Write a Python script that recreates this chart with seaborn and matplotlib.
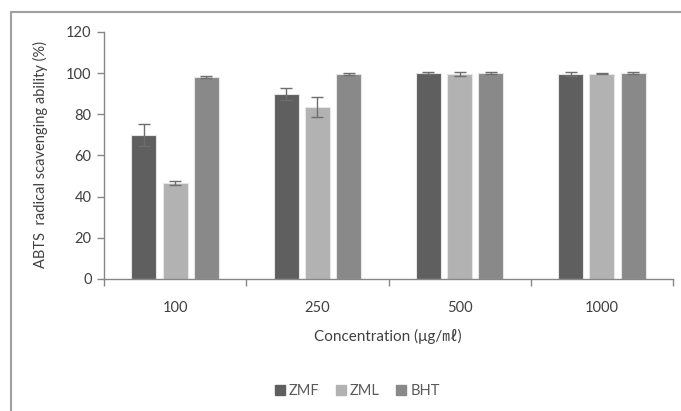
import matplotlib
matplotlib.use("Agg")
import matplotlib.pyplot as plt
import seaborn as sns
import pandas as pd
from matplotlib.lines import Line2D

concentrations = ["100", "250", "500", "1000"]
samples = ["ZMF", "ZML", "BHT"]
zmf_vals = [69.8, 89.8, 100.0, 99.5]
zmf_err = [5.3, 3.0, 0.5, 1.0]
zml_vals = [46.6, 83.5, 99.4, 99.8]
zml_err = [0.8, 4.7, 1.0, 0.4]
bht_vals = [98.2, 99.6, 100.0, 100.0]
bht_err = [0.4, 0.4, 0.4, 0.5]
colors = ["#5f5f5f", "#b2b2b2", "#898989"]

rows = []
for s, vals, errs in [("ZMF", zmf_vals, zmf_err), ("ZML", zml_vals, zml_err), ("BHT", bht_vals, bht_err)]:
    for c, v, e in zip(concentrations, vals, errs):
        rows.append({"Concentration": c, "Sample": s, "Value": v, "Err": e})
df = pd.DataFrame(rows)

sns.set_theme(style="white")
plt.rcParams['font.family'] = ['Lato', 'DejaVu Sans']

W, H = 681, 411
fig = plt.figure(figsize=(W / 100, H / 100), dpi=100)
ax = fig.add_axes([104 / W, 1 - 279 / H, (673 - 104) / W, (279 - 32) / H])

sns.barplot(data=df, x="Concentration", y="Value", hue="Sample", order=concentrations,
            hue_order=samples, palette=colors, width=0.66, gap=0.2, errorbar=None,
            edgecolor="#e6e6e6", linewidth=0.8, ax=ax, legend=False)

# error bars from bar positions
for cont, s in zip(ax.containers, samples):
    sub = df[df["Sample"] == s].set_index("Concentration").loc[concentrations]
    xs = [p.get_x() + p.get_width() / 2 for p in cont.patches]
    ax.errorbar(xs, sub["Value"].values, yerr=sub["Err"].values, fmt="none",
                ecolor="#6e6e6e", elinewidth=1, capsize=4, capthick=1, zorder=5)

ax.set_ylim(0, 120)
ax.set_yticks(range(0, 121, 20))
ax.set_xlim(-0.5, 3.5)
ax.set_xticks([-0.5, 0.5, 1.5, 2.5, 3.5], minor=True)
ax.tick_params(axis="x", which="major", length=0, pad=16, labelsize=10.5, labelcolor="#404040")
ax.tick_params(axis="x", which="minor", length=5, width=1, color="#868686", direction="out", bottom=True)
ax.tick_params(axis="y", which="major", length=5, width=1, color="#868686", direction="out", left=True,
               labelsize=10.5, labelcolor="#404040", pad=4)
for sp in ["top", "right"]:
    ax.spines[sp].set_visible(False)
for sp in ["left", "bottom"]:
    ax.spines[sp].set_color("#868686")
    ax.spines[sp].set_linewidth(1)
ax.set_xlabel("")
ax.set_ylabel("")

fig.text(40 / W, 1 - 155 / H, "ABTS  radical scavenging ability (%)", rotation=90,
         ha="center", va="center", fontsize=10.5, color="#404040")
fig.text(388 / W, 1 - 336 / H, "Concentration (\u03bcg/\u3396)", ha="center", va="center",
         fontsize=11, color="#404040", family=['Lato', 'DejaVu Sans', 'Noto Sans CJK SC'])

handles = [Line2D([0], [0], marker="s", linestyle="none", markersize=7,
                  markerfacecolor=c, markeredgecolor=c) for c in colors]
fig.legend(handles, samples, loc="center", bbox_to_anchor=(356 / W, 1 - 391 / H), ncol=3,
           frameon=False, fontsize=10.5, handletextpad=0.1, columnspacing=1.0,
           labelcolor="#595959", handlelength=1.0)

# outer frame lines
fig.add_artist(Line2D([11 / W, 11 / W], [0, 1 - 12 / H], color="#a0a0a0", lw=1.5, transform=fig.transFigure))
fig.add_artist(Line2D([11 / W, 1], [1 - 12 / H, 1 - 12 / H], color="#a0a0a0", lw=1.5, transform=fig.transFigure))

fig.savefig("out.png", dpi=100, facecolor="white")
